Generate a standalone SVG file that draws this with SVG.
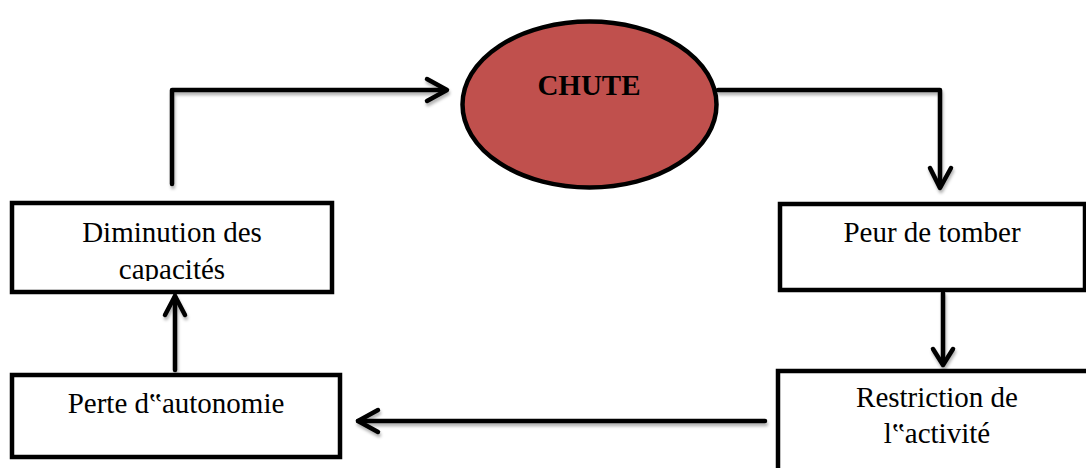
<svg xmlns="http://www.w3.org/2000/svg" width="1086" height="468" viewBox="0 0 1086 468">
  <style>
    .box { fill: #ffffff; stroke: #000000; stroke-width: 4.5; }
    .lbl { font-family: "Liberation Serif", "Times New Roman", serif; font-size: 29px; fill: #000000; text-anchor: middle; }
    .title { font-weight: bold; }
    .conn { fill: none; stroke: #000000; stroke-width: 4.5; stroke-linecap: round; stroke-linejoin: round; }
  </style>
  <defs>
    <filter id="shadow" x="-10%" y="-10%" width="120%" height="140%">
      <feDropShadow dx="1" dy="3" stdDeviation="1.5" flood-color="#000000" flood-opacity="0.3"/>
    </filter>
    <clipPath id="clipDim">
      <rect x="14" y="205" width="316" height="76"/>
    </clipPath>
  </defs>
  <rect width="1086" height="468" fill="#ffffff"/>

  <g id="connectors" filter="url(#shadow)">
    <path class="conn" d="M172 184 V90 H446"/>
    <path class="conn" d="M427 79 L447 90 L427 101"/>
    <path class="conn" d="M718 90 H940 V187"/>
    <path class="conn" d="M930 168 L940 188 L951 168"/>
    <path class="conn" d="M943 293 V364"/>
    <path class="conn" d="M933 349 L943 365 L953 349"/>
    <path class="conn" d="M765 421 H358"/>
    <path class="conn" d="M378 410 L358 421 L378 432"/>
    <path class="conn" d="M175 370 V296"/>
    <path class="conn" d="M165 315 L175 296 L185 315"/>
  </g>

  <g id="chute">
    <ellipse cx="589.5" cy="104.5" rx="127" ry="83" fill="#C0504D" stroke="#000000" stroke-width="4.5"/>
    <text class="lbl title" x="589" y="95">CHUTE</text>
  </g>

  <g id="diminution">
    <rect class="box" x="12" y="203" width="320" height="89"/>
    <g clip-path="url(#clipDim)">
      <text class="lbl" x="172" y="242">Diminution des</text>
      <text class="lbl" x="172" y="279">capacités</text>
    </g>
  </g>

  <g id="peur">
    <rect class="box" x="780" y="204" width="305" height="86"/>
    <text class="lbl" x="932" y="242">Peur de tomber</text>
  </g>

  <g id="restriction">
    <rect class="box" x="778" y="371" width="312" height="102"/>
    <text class="lbl" x="937" y="407">Restriction de</text>
    <text class="lbl" x="937" y="443">l‟activité</text>
  </g>

  <g id="perte">
    <rect class="box" x="12" y="375" width="328" height="82"/>
    <text class="lbl" x="176" y="413">Perte d‟autonomie</text>
  </g>
</svg>
